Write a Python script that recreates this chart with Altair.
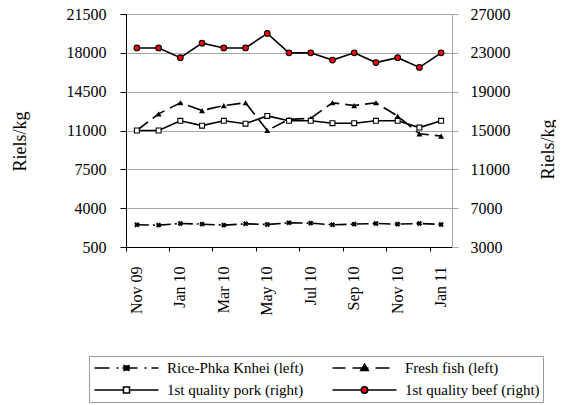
import altair as alt
import pandas as pd

months = ["Nov 09", "Dec 09", "Jan 10", "Feb 10", "Mar 10", "Apr 10", "May 10", "Jun 10",
          "Jul 10", "Aug 10", "Sep 10", "Oct 10", "Nov 10", "Dec 10", "Jan 11"]
rice = [2500, 2470, 2620, 2560, 2470, 2590, 2530, 2680, 2650, 2500, 2560, 2620, 2560, 2620, 2530]
fish = [11000, 12500, 13500, 12800, 13250, 13500, 11000, 12000, 12100, 13500, 13250, 13500, 12300, 10700, 10500]
pork = [15000, 15000, 16000, 15500, 16000, 15700, 16500, 16000, 16000, 15750, 15750, 16000, 16000, 15300, 16000]
beef = [23500, 23500, 22500, 24000, 23500, 23500, 25000, 23000, 23000, 22250, 23000, 22000, 22500, 21500, 23000]

series_names = ["Rice-Phka Knhei (left)", "Fresh fish (left)",
                "1st quality pork (right)", "1st quality beef (right)"]
left_ticks = [500, 4000, 7500, 11000, 14500, 18000, 21500]
right_ticks = [3000, 7000, 11000, 15000, 19000, 23000, 27000]
x_labels = months[::2]

rows = []
for name, vals in zip(series_names, [rice, fish, pork, beef]):
    for m, v in zip(months, vals):
        rows.append({"month": m, "series": name, "value": v})
df = pd.DataFrame(rows)

FONT = "Liberation Serif, Times New Roman, DejaVu Serif, serif"
GRID = "#a6a6a6"

x_enc = alt.X("month:O", sort=months,
              scale=alt.Scale(type="band", paddingInner=0, paddingOuter=0),
              axis=alt.Axis(title=None, values=x_labels, bandPosition=0, labelAngle=270,
                            tickSize=4, tickColor="black", domainColor="black",
                            labelPadding=15, labelFontSize=16, grid=False,
                            labelFont=FONT))

y_left = alt.Y("value:Q",
               scale=alt.Scale(domain=[500, 21500], nice=False, zero=False),
               axis=alt.Axis(title="Riels/kg", values=left_ticks, format="d", grid=True,
                             gridColor=GRID, domainColor="black", tickColor="black", tickSize=6,
                             labelPadding=14, labelFontSize=16, titleFontSize=18,
                             labelFont=FONT, titleFont=FONT,
                             titleAngle=270, titleX=-106, titleY=127,
                             titleAlign="center", titleBaseline="middle"))
y_right = alt.Y("value:Q",
                scale=alt.Scale(domain=[3000, 27000], nice=False, zero=False),
                axis=alt.Axis(title="Riels/kg", orient="right", values=right_ticks, format="d",
                              grid=False, domainColor=GRID, tickColor=GRID, tickSize=6,
                              labelPadding=12, labelFontSize=16, titleFontSize=18,
                              labelFont=FONT, titleFont=FONT,
                              titleAngle=270, titleX=96, titleY=135,
                              titleAlign="center", titleBaseline="middle"))


def series_layer(name, y, dash, pt):
    base = alt.Chart(df).transform_filter(alt.datum.series == name)
    line_kw = dict(color="black", strokeWidth=1.6)
    if dash:
        line_kw["strokeDash"] = dash
    line = base.mark_line(**line_kw).encode(x=x_enc, y=y)
    pts = base.mark_point(**pt).encode(x=x_enc, y=y)
    return [line, pts]


left = alt.layer(
    *series_layer(series_names[0], y_left, [12, 4, 2, 4],
                  dict(shape="cross", angle=45, filled=True, color="black", size=30, opacity=1)),
    *series_layer(series_names[1], y_left, [14, 6],
                  dict(shape="triangle-up", filled=True, color="black", size=36, opacity=1)),
)
right = alt.layer(
    *series_layer(series_names[2], y_right, None,
                  dict(shape="square", filled=True, fill="white", stroke="black",
                       strokeWidth=1.1, size=24, opacity=1)),
    *series_layer(series_names[3], y_right, None,
                  dict(shape="circle", filled=True, fill="red", stroke="black",
                       strokeWidth=1.1, size=32, opacity=1)),
)

# legend symbols: line + marker drawn as custom symbol paths
U = 33.5


def seg(x0, x1):
    return f"M{x0 / U:.4f},0H{x1 / U:.4f}"


def poly(pts):
    return "M" + "L".join(f"{a / U:.4f},{b / U:.4f}" for a, b in pts) + "Z"


rice_path = (seg(-32, -17) + seg(-10, -8) + seg(-4, 11) + seg(18, 20) + seg(25, 32)
             + poly([(-2.5, -2), (2.5, -2), (2.5, 2), (-2.5, 2)])
             + f"M{-3/U:.4f},{-3/U:.4f}L{3/U:.4f},{3/U:.4f}M{-3/U:.4f},{3/U:.4f}L{3/U:.4f},{-3/U:.4f}")
fish_path = seg(-32, -19) + seg(-12, 4) + seg(11, 25) + poly([(0, -3.8), (3.8, 2.6), (-3.8, 2.6)])
pork_path = seg(-32, -3) + seg(3, 32) + poly([(-3, -3), (3, -3), (3, 3), (-3, 3)])
r = 3.2 / U
beef_path = (seg(-32, -3.2) + seg(3.2, 32)
             + f"M{-r:.4f},0A{r:.4f},{r:.4f} 0 1,0 {r:.4f},0A{r:.4f},{r:.4f} 0 1,0 {-r:.4f},0Z")

legend_df = pd.DataFrame({"series": series_names})
leg = alt.Legend(title=None)
legend_layer = alt.Chart(legend_df).transform_filter("false").mark_point(
    filled=True, strokeWidth=1.5, size=U * U * 4
).encode(
    shape=alt.Shape("series:N",
                    scale=alt.Scale(domain=series_names,
                                    range=[rice_path, fish_path, pork_path, beef_path]),
                    legend=leg),
    fill=alt.Fill("series:N",
                  scale=alt.Scale(domain=series_names,
                                  range=["black", "black", "white", "red"]),
                  legend=leg),
    stroke=alt.Stroke("series:N",
                      scale=alt.Scale(domain=series_names,
                                      range=["black", "black", "black", "black"]),
                      legend=leg),
)

chart = alt.layer(left, right, legend_layer).resolve_scale(
    y="independent"
).properties(
    width=326, height=233,
    autosize=alt.AutoSizeParams(type="none"),
    padding={"left": 118, "top": 6, "right": 104, "bottom": 157},
).configure_view(stroke=None).configure_axis(
    labelFont=FONT, titleFont=FONT, labelColor="black", titleColor="black",
    titleFontWeight="normal"
).configure_legend(
    orient="none", legendX=-37, legendY=342, columns=2, direction="horizontal", padding=3,
    strokeColor="#999999", clipHeight=18, rowPadding=4, columnPadding=26,
    labelOffset=6, symbolSize=U * U * 4, symbolStrokeWidth=1.5,
    symbolOffset=0, labelFont=FONT, labelFontSize=15, labelColor="black",
    symbolOpacity=1
)

chart.save("out.html", embed_options={"renderer": "svg", "actions": False})
